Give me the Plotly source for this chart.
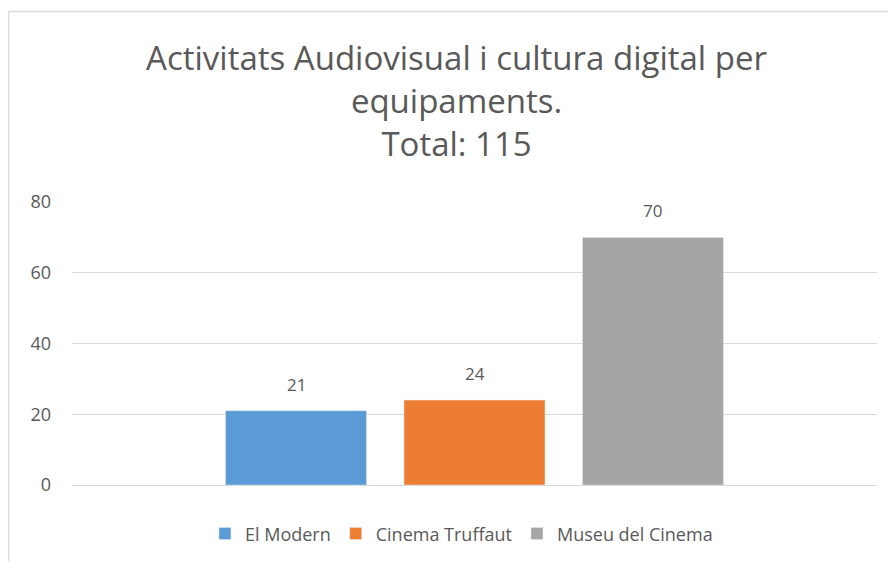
import plotly.graph_objects as go

series_names = ['El Modern', 'Cinema Truffaut', 'Museu del Cinema']
series_values = [21, 24, 70]
series_colors = ['#5b9bd5', '#ed7d31', '#a5a5a5']
y_ticks = [0, 20, 40, 60, 80]

FONT = 'Open Sans'
TEXT = '#595959'
GRID = '#d9d9d9'

fig = go.Figure()
for name, val, col in zip(series_names, series_values, series_colors):
    fig.add_trace(go.Bar(x=[name], y=[val], name=name, marker_color=col, width=0.79))
    fig.add_annotation(
        x=name, y=val, text=str(val), showarrow=False, yanchor='bottom', yshift=13,
        font={'size': 17, 'color': TEXT, 'family': FONT},
    )

fig.update_layout(
    width=880, height=553,
    paper_bgcolor='white', plot_bgcolor='white',
    margin={'l': 64, 'r': 11, 't': 193.7, 'b': 76},
    barmode='overlay',
    font={'family': FONT, 'color': TEXT},
    title={
        'text': 'Activitats Audiovisual i cultura digital per<br>equipaments.<br>Total: 115',
        'x': 0.5097, 'xref': 'container', 'xanchor': 'center',
        'y': 0.888, 'yref': 'container', 'yanchor': 'top',
        'font': {'size': 33, 'color': TEXT, 'family': FONT},
    },
    showlegend=True,
    legend={
        'orientation': 'h', 'x': 0.5153, 'xref': 'container', 'xanchor': 'center',
        'y': 0.049, 'yref': 'container', 'yanchor': 'middle',
        'font': {'size': 18, 'color': TEXT, 'family': FONT},
        'itemwidth': 30, 'traceorder': 'normal',
    },
    shapes=[
        dict(type='line', xref='paper', yref='paper', x0=-0.0789, x1=-0.0789, y0=-0.6, y1=1.673,
             line={'color': GRID, 'width': 1.5}),
        dict(type='line', xref='paper', yref='paper', x0=-0.0789, x1=1.1, y0=1.673, y1=1.673,
             line={'color': GRID, 'width': 1.5}),
    ],
)
fig.update_yaxes(
    range=[0, 80], tickvals=y_ticks, showgrid=True, gridcolor=GRID, gridwidth=1,
    zeroline=False, showline=False, ticks='', ticklabelstandoff=20,
    tickfont={'size': 18, 'color': TEXT, 'family': FONT},
)
fig.update_xaxes(
    range=[-1.255, 3.255], showticklabels=False, showgrid=False,
    showline=True, linecolor=GRID, linewidth=1, ticks='',
)

fig.write_html('out.html')
